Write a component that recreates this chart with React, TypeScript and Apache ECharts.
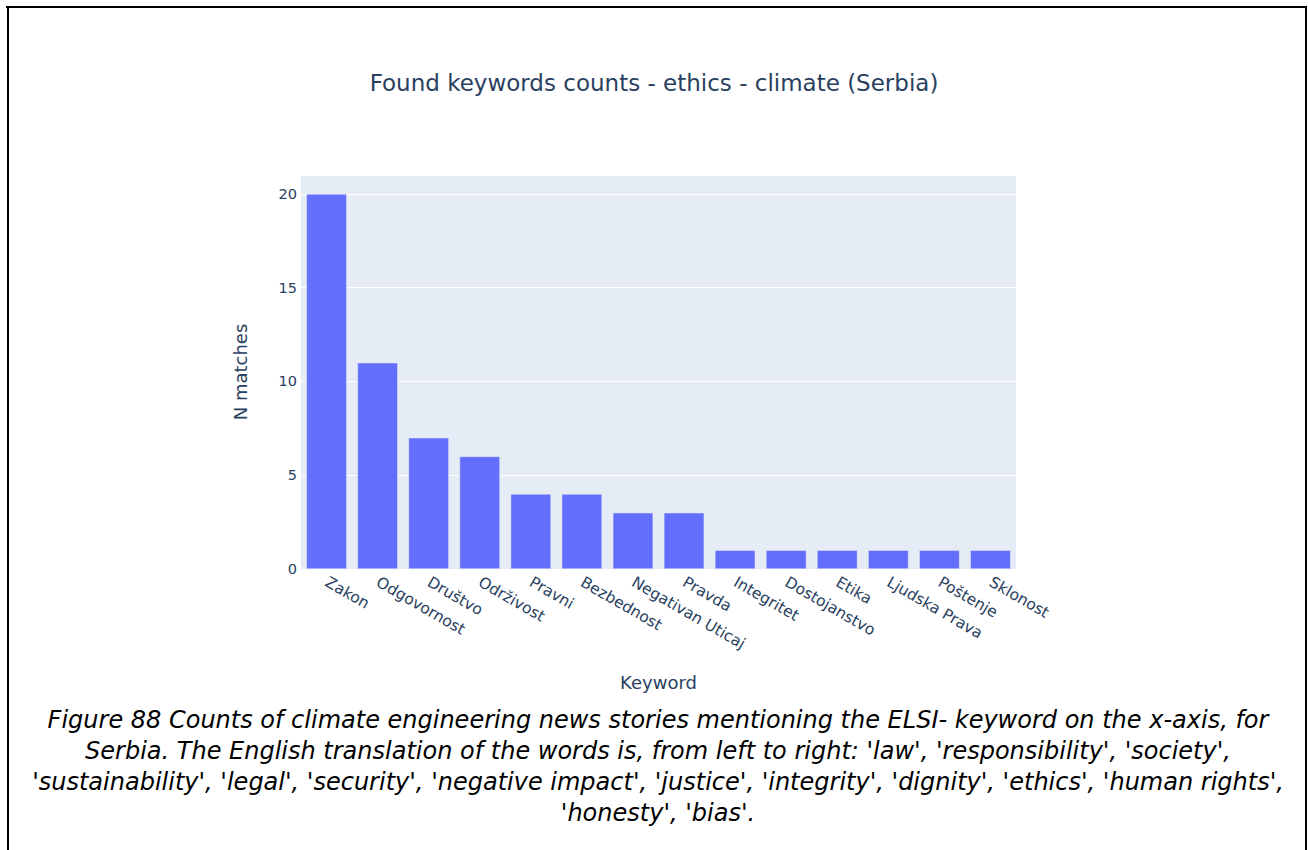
import React, { useEffect, useRef } from "react";
import * as echarts from "echarts";

const categories = [
  "Zakon",
  "Odgovornost",
  "Društvo",
  "Održivost",
  "Pravni",
  "Bezbednost",
  "Negativan Uticaj",
  "Pravda",
  "Integritet",
  "Dostojanstvo",
  "Etika",
  "Ljudska Prava",
  "Poštenje",
  "Sklonost",
];
const counts = [20, 11, 7, 6, 4, 4, 3, 3, 1, 1, 1, 1, 1, 1];
const yTicks = [0, 5, 10, 15, 20];

const titleText = "Found keywords counts - ethics - climate (Serbia)";
const xName = "Keyword";
const yName = "N matches";
const captionLines = [
  "Figure 88 Counts of climate engineering news stories mentioning the ELSI- keyword on the x-axis, for",
  "Serbia. The English translation of the words is, from left to right: 'law', 'responsibility', 'society',",
  "'sustainability', 'legal', 'security', 'negative impact', 'justice', 'integrity', 'dignity', 'ethics', 'human rights',",
  "'honesty', 'bias'.",
];

const FONT = "'DejaVu Sans', Verdana, sans-serif";
const INK = "#2a3f5f";

export default function App() {
  const ref = useRef<HTMLDivElement>(null);
  useEffect(() => {
    if (!ref.current) return;
    const chart = echarts.init(ref.current, undefined, { renderer: "svg" });
    const captionGraphics = captionLines.map((line, i) => ({
      type: "text",
      x: 658,
      y: 720 + i * 31,
      style: {
        text: line,
        font: `italic 24px 'DejaVu Sans', sans-serif`,
        fill: "#000",
        align: "center",
        verticalAlign: "middle",
      },
    }));
    chart.setOption({
      animation: false,
      backgroundColor: "#ffffff",
      title: {
        text: titleText,
        left: "center",
        top: 66,
        textStyle: { fontFamily: FONT, fontSize: 23, fontWeight: "normal", color: INK },
      },
      grid: {
        left: 301,
        right: 1308 - 1016,
        top: 175,
        bottom: 850 - 569,
        show: true,
        backgroundColor: "#E5ECF6",
        borderWidth: 0,
      },
      xAxis: {
        type: "category",
        data: categories,
        name: xName,
        nameLocation: "middle",
        nameGap: 104,
        nameTextStyle: { fontFamily: FONT, fontSize: 18, color: INK },
        axisLine: { show: false },
        axisTick: { show: false },
        axisLabel: {
          interval: 0,
          rotate: -30,
          margin: 12,
          fontFamily: FONT,
          fontSize: 15.5,
          color: INK,
        },
      },
      yAxis: {
        type: "value",
        min: 0,
        max: 21.01,
        interval: 5,
        name: yName,
        nameLocation: "middle",
        nameGap: 52,
        nameTextStyle: { fontFamily: FONT, fontSize: 18, color: INK },
        axisLine: { show: false },
        axisTick: { show: false },
        axisLabel: {
          margin: 4,
          fontFamily: FONT,
          fontSize: 14.5,
          color: INK,
          showMaxLabel: false,
          formatter: (v: number) => (yTicks.includes(v) ? String(v) : ""),
        },
        splitLine: { lineStyle: { color: "#ffffff", width: 1 } },
      },
      series: [
        {
          type: "bar",
          data: counts,
          barCategoryGap: "21%",
          itemStyle: { color: "#636efa", borderColor: "#E5ECF6", borderWidth: 0.5 },
        },
      ],
      graphic: [
        { type: "line", shape: { x1: 6, y1: 7, x2: 1307, y2: 7 }, style: { stroke: "#000", lineWidth: 2 } },
        { type: "line", shape: { x1: 8, y1: 6, x2: 8, y2: 850 }, style: { stroke: "#000", lineWidth: 2 } },
        { type: "line", shape: { x1: 1306, y1: 6, x2: 1306, y2: 850 }, style: { stroke: "#000", lineWidth: 2 } },
        ...captionGraphics,
      ],
    });
    return () => chart.dispose();
  }, []);
  return (
    <div
      ref={ref}
      style={{ position: "absolute", left: 0, top: 0, width: 1308, height: 850, background: "#fff" }}
    />
  );
}
